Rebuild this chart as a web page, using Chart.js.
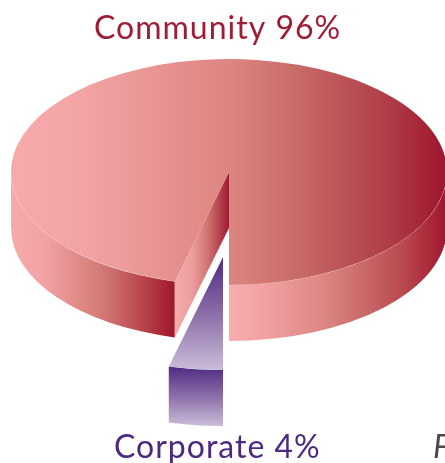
<!DOCTYPE html>
<html>
<head>
<meta charset="utf-8">
<style>
  html, body { margin: 0; padding: 0; background: #fff; overflow: hidden; }
  #wrap { width: 445px; height: 463px; overflow: hidden; }
</style>
</head>
<body>
<div id="wrap"><canvas id="pie" width="460" height="463"></canvas></div>
<script src="https://cdn.jsdelivr.net/npm/chart.js@4/dist/chart.umd.min.js"></script>
<script>
// ── data ─────────────────────────────────────────────────────────────────
const categories = ['Community', 'Corporate'];
const shares = [96, 4];

// ── look ─────────────────────────────────────────────────────────────────
const CENTER_Y = 172;        // where the disc centre lands after squashing
const SQUASH = 113 / 218;    // ellipse height / width
const DEPTH = 56;            // wall height of the disc
const PULL = { x: -6, y: 85 };   // how far the small slice is pulled out

const RED = {
  text: '#a01c35',
  top: [[0, '#f6abab'], [0.17, '#f3a3a5'], [0.5, '#dc8581'], [0.65, '#c96c68'], [0.85, '#b1404a'], [1, '#9f152d']],
  wallLeft: [[0, '#f6abab'], [0.2, '#f3a3a5'], [0.55, '#d27b76'], [0.8, '#b9464d'], [1, '#9f152d']],
  wallRight: [[0, '#f7adae'], [0.15, '#f3a2a4'], [0.45, '#da8581'], [0.8, '#b9494f'], [1, '#9f152d']],
  cut: [[0, '#f6abab'], [0.3, '#ef9ea0'], [0.6, '#cf7673'], [1, '#a01a30']],
};
const PURPLE = {
  text: '#4d2a82',
  stops: [[0, '#4f2a83'], [0.5, '#8a6ea8'], [1, '#cbbcd9']],
};

function gradient(ctx, x0, y0, x1, y1, stops) {
  const g = ctx.createLinearGradient(x0, y0, x1, y1);
  stops.forEach(([at, color]) => g.addColorStop(at, color));
  return g;
}

// Top face fill for each slice
function topFill(c) {
  const area = c.chart.chartArea;
  if (!area) return '#ccc';
  if (c.dataIndex === 1) {
    const mid = (area.top + area.bottom) / 2;
    return gradient(c.chart.ctx, 0, mid, 0, area.bottom, PURPLE.stops);
  }
  return gradient(c.chart.ctx, area.left, 0, area.right, 0, RED.top);
}

// Curved outer wall between two angles of an arc element
function wallPath(ctx, arc, from, to, cx, cy) {
  const rx = arc.outerRadius, ry = rx * SQUASH;
  ctx.beginPath();
  ctx.ellipse(cx, cy, rx, ry, 0, from, to);
  ctx.ellipse(cx, cy + DEPTH, rx, ry, 0, to, from, true);
  ctx.closePath();
}

function rimLine(ctx, arc, from, to, cx, cy) {
  const rx = arc.outerRadius;
  ctx.beginPath();
  ctx.ellipse(cx, cy, rx, rx * SQUASH, 0, from, to);
  ctx.strokeStyle = 'rgba(255,255,255,0.3)';
  ctx.lineWidth = 0.5;
  ctx.stroke();
}

function drawTop(ctx, arc, dx, dy) {
  ctx.save();
  ctx.translate(dx, CENTER_Y + dy);
  ctx.scale(1, SQUASH);
  ctx.translate(0, -arc.y);
  arc.draw(ctx);
  ctx.restore();
}

// ── squashed 3D pie, built on the arc elements the pie controller laid out ──
const tiltedPie = {
  id: 'tiltedPie',
  beforeDatasetsDraw(chart) {
    const ctx = chart.ctx;
    const [big, small] = chart.getDatasetMeta(0).data;
    const cx = big.x, cy = CENTER_Y;
    const r = big.outerRadius, ry = r * SQUASH;

    // big slice wraps round from the cut to due south
    const cutAngle = big.startAngle;
    const cornerX = cx + Math.cos(cutAngle) * r;
    const cornerY = cy + Math.sin(cutAngle) * ry;

    ctx.save();
    // right wall: east to south
    wallPath(ctx, big, 0, Math.PI / 2, cx, cy);
    ctx.fillStyle = gradient(ctx, cx, 0, cx + r, 0, RED.wallRight);
    ctx.fill();
    // left wall: cut corner to west
    wallPath(ctx, big, cutAngle, Math.PI, cx, cy);
    ctx.fillStyle = gradient(ctx, cx - r, 0, cornerX, 0, RED.wallLeft);
    ctx.fill();
    // inner face of the notch
    ctx.beginPath();
    ctx.moveTo(cx, cy);
    ctx.lineTo(cornerX, cornerY);
    ctx.lineTo(cornerX, cornerY + DEPTH);
    ctx.lineTo(cx, cy + DEPTH);
    ctx.closePath();
    ctx.fillStyle = gradient(ctx, cornerX, 0, cx, 0, RED.cut);
    ctx.fill();
    ctx.restore();

    drawTop(ctx, big, 0, 0);
    rimLine(ctx, big, 0, Math.PI / 2, cx, cy);
    rimLine(ctx, big, cutAngle, Math.PI, cx, cy);

    // pulled-out slice
    const sx = cx + PULL.x, sy = cy + PULL.y;
    ctx.save();
    wallPath(ctx, small, small.startAngle, small.endAngle, sx, sy);
    ctx.fillStyle = gradient(ctx, 0, sy + ry - 4, 0, sy + ry + DEPTH, PURPLE.stops);
    ctx.fill();
    ctx.restore();
    drawTop(ctx, small, PULL.x, PULL.y);

    return false; // arcs are already painted
  },
  afterDraw(chart) {
    const ctx = chart.ctx;
    const labels = chart.data.labels;
    const values = chart.data.datasets[0].data;
    ctx.save();
    ctx.textBaseline = 'alphabetic';
    ctx.textAlign = 'left';
    ctx.font = '400 32px Lato';
    ctx.letterSpacing = '1px';
    ctx.fillStyle = RED.text;
    ctx.fillText(`${labels[0]} ${values[0]}%`, 94, 39);
    ctx.fillStyle = PURPLE.text;
    ctx.fillText(`${labels[1]} ${values[1]}%`, 114, 458);
    ctx.font = 'italic 400 32px Lato';
    ctx.letterSpacing = '0px';
    ctx.fillStyle = '#4a4a4a';
    ctx.fillText('F', 433, 458);
    ctx.restore();
  },
};

new Chart(document.getElementById('pie').getContext('2d'), {
  type: 'pie',
  data: {
    labels: categories,
    datasets: [{
      data: shares,
      backgroundColor: topFill,
      borderWidth: 0,
    }],
  },
  options: {
    responsive: false,
    animation: false,
    events: [],
    rotation: 180 + shares[1] * 3.6,
    layout: { padding: { left: 11, right: 13, top: 13, bottom: 14 } },
    plugins: { legend: { display: false }, tooltip: { enabled: false } },
  },
  plugins: [tiltedPie],
});
</script>
</body>
</html>
